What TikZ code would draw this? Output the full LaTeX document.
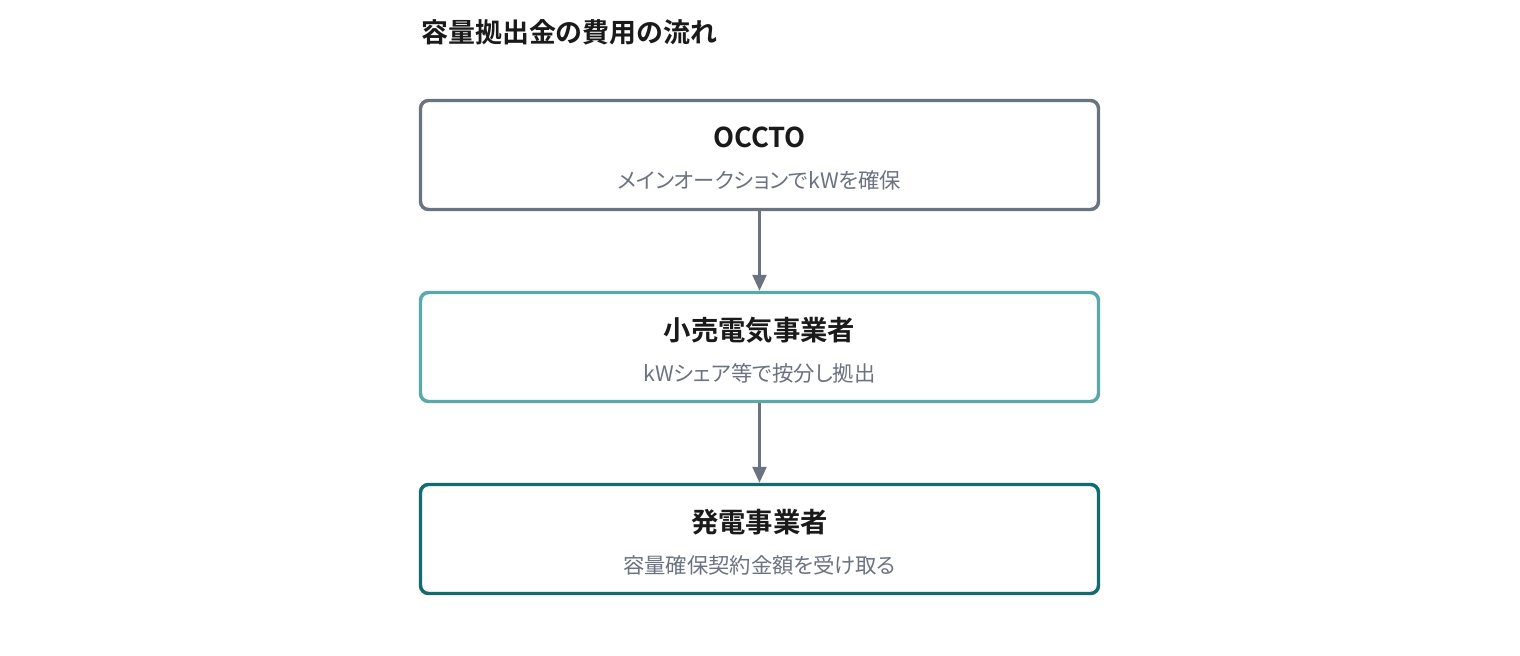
\documentclass[tikz,border=0pt]{standalone}
\usepackage{fontspec}
\setmainfont{Noto Sans CJK JP}
\newfontfamily\cjkb{Noto Sans CJK JP Bold}
\newfontfamily\cjkp[RawFeature=+palt]{Noto Sans CJK JP}
\usetikzlibrary{arrows.meta}
\definecolor{ink}{HTML}{1A1A1A}
\definecolor{graybd}{HTML}{6B7280}
\definecolor{tealL}{HTML}{5BA8A8}
\definecolor{tealD}{HTML}{136B6B}
\tikzset{
  box/.style={draw=#1, line width=2.6pt, rounded corners=6pt, fill=white,
    minimum width=508.5pt, minimum height=81.75pt, inner sep=0pt},
  head/.style={anchor=base, text=ink, font=\cjkb\fontsize{20.5pt}{23pt}\selectfont, inner sep=0pt},
  sub/.style={anchor=base, text=graybd, font=\cjkp\fontsize{16pt}{19pt}\selectfont, inner sep=0pt},
  flow/.style={draw=graybd, line width=1.9pt, -{Triangle[width=10.5pt,length=12pt]}},
}
\begin{document}
\begin{tikzpicture}[x=0.75pt,y=-0.75pt]
\useasboundingbox (0,0) rectangle (1520,656);
\node[anchor=base west, text=ink, font=\cjkb\fontsize{20.2pt}{23pt}\selectfont, inner sep=0pt] (title) at (421,43) {容量拠出金の費用の流れ};
\node[box=graybd] (b1) at (759.5,155) {};
\node[box=tealL] (b2) at (759.5,347) {};
\node[box=tealD] (b3) at (759.5,539) {};
\node[head] (h1) at (759.5,148) {OCCTO};
\node[sub] (s1) at (759.5,189) {メインオークションでkWを確保};
\node[head] (h2) at (759.5,340) {小売電気事業者};
\node[sub] (s2) at (759.5,381) {kWシェア等で按分し拠出};
\node[head] (h3) at (759.5,532) {発電事業者};
\node[sub] (s3) at (759.5,573) {容量確保契約金額を受け取る};
\draw[flow] (b1.south) -- (b2.north);
\draw[flow] (b2.south) -- (b3.north);
\end{tikzpicture}
\end{document}
